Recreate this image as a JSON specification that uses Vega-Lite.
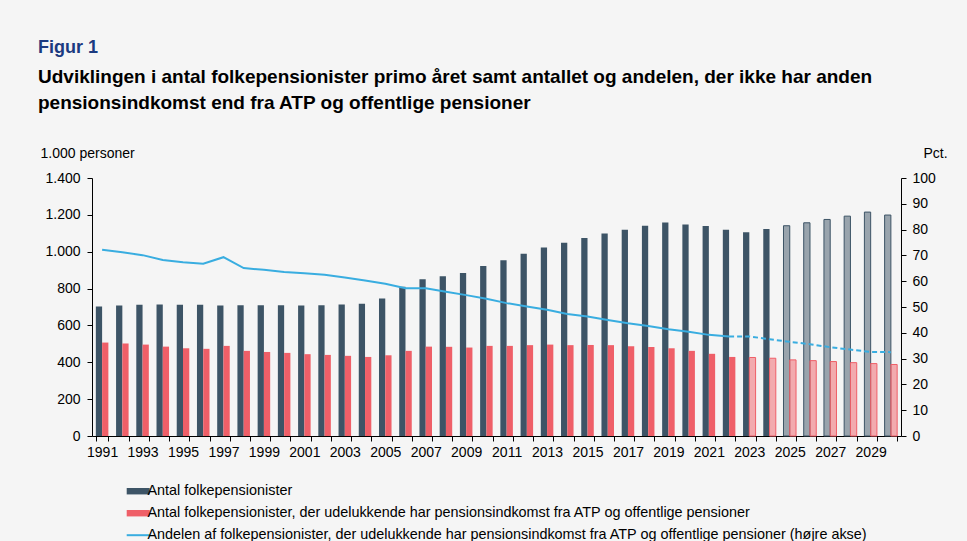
{
  "$schema": "https://vega.github.io/schema/vega-lite/v6.json",
  "width": 809,
  "height": 258,
  "autosize": {"type": "none"},
  "padding": {"left": 92, "top": 178, "right": 66, "bottom": 105},
  "background": "#f5f5f5",
  "config": {
    "view": {"stroke": null},
    "font": "Liberation Sans",
    "locale": {"number": {"decimal": ",", "thousands": ".", "grouping": [3], "currency": ["", " kr."]}},
    "axis": {
      "domainColor": "#000", "tickColor": "#000", "labelColor": "#000",
      "labelFontSize": 14, "labelFont": "Liberation Sans",
      "titleFont": "Liberation Sans", "titleFontSize": 14, "titleFontWeight": "normal", "titleColor": "#000",
      "grid": false, "tickSize": 5
    }
  },
  "title": {
    "text": "Figur 1",
    "subtitle": ["Udviklingen i antal folkepensionister primo året samt antallet og andelen, der ikke har anden", "pensionsindkomst end fra ATP og offentlige pensioner"],
    "anchor": "start",
    "frame": "group",
    "dx": -54,
    "offset": 33,
    "font": "Liberation Sans",
    "fontSize": 18,
    "fontWeight": "bold",
    "color": "#1b3a80",
    "subtitleFont": "Liberation Sans",
    "subtitleFontSize": 19,
    "subtitleFontWeight": "bold",
    "subtitleColor": "#000",
    "subtitleLineHeight": 26,
    "subtitlePadding": 11
  },
  "datasets": {
    "bars": [
      {"aar": 1991, "serie": "antal", "antal": 703, "prognose": false}, {"aar": 1991, "serie": "udel", "antal": 507, "prognose": false},
      {"aar": 1992, "serie": "antal", "antal": 708, "prognose": false}, {"aar": 1992, "serie": "udel", "antal": 502, "prognose": false},
      {"aar": 1993, "serie": "antal", "antal": 712, "prognose": false}, {"aar": 1993, "serie": "udel", "antal": 496, "prognose": false},
      {"aar": 1994, "serie": "antal", "antal": 714, "prognose": false}, {"aar": 1994, "serie": "udel", "antal": 485, "prognose": false},
      {"aar": 1995, "serie": "antal", "antal": 712, "prognose": false}, {"aar": 1995, "serie": "udel", "antal": 476, "prognose": false},
      {"aar": 1996, "serie": "antal", "antal": 712, "prognose": false}, {"aar": 1996, "serie": "udel", "antal": 473, "prognose": false},
      {"aar": 1997, "serie": "antal", "antal": 708, "prognose": false}, {"aar": 1997, "serie": "udel", "antal": 489, "prognose": false},
      {"aar": 1998, "serie": "antal", "antal": 710, "prognose": false}, {"aar": 1998, "serie": "udel", "antal": 462, "prognose": false},
      {"aar": 1999, "serie": "antal", "antal": 710, "prognose": false}, {"aar": 1999, "serie": "udel", "antal": 456, "prognose": false},
      {"aar": 2000, "serie": "antal", "antal": 710, "prognose": false}, {"aar": 2000, "serie": "udel", "antal": 451, "prognose": false},
      {"aar": 2001, "serie": "antal", "antal": 708, "prognose": false}, {"aar": 2001, "serie": "udel", "antal": 444, "prognose": false},
      {"aar": 2002, "serie": "antal", "antal": 710, "prognose": false}, {"aar": 2002, "serie": "udel", "antal": 440, "prognose": false},
      {"aar": 2003, "serie": "antal", "antal": 714, "prognose": false}, {"aar": 2003, "serie": "udel", "antal": 435, "prognose": false},
      {"aar": 2004, "serie": "antal", "antal": 717, "prognose": false}, {"aar": 2004, "serie": "udel", "antal": 429, "prognose": false},
      {"aar": 2005, "serie": "antal", "antal": 746, "prognose": false}, {"aar": 2005, "serie": "udel", "antal": 438, "prognose": false},
      {"aar": 2006, "serie": "antal", "antal": 810, "prognose": false}, {"aar": 2006, "serie": "udel", "antal": 462, "prognose": false},
      {"aar": 2007, "serie": "antal", "antal": 851, "prognose": false}, {"aar": 2007, "serie": "udel", "antal": 485, "prognose": false},
      {"aar": 2008, "serie": "antal", "antal": 867, "prognose": false}, {"aar": 2008, "serie": "udel", "antal": 484, "prognose": false},
      {"aar": 2009, "serie": "antal", "antal": 884, "prognose": false}, {"aar": 2009, "serie": "udel", "antal": 480, "prognose": false},
      {"aar": 2010, "serie": "antal", "antal": 922, "prognose": false}, {"aar": 2010, "serie": "udel", "antal": 489, "prognose": false},
      {"aar": 2011, "serie": "antal", "antal": 954, "prognose": false}, {"aar": 2011, "serie": "udel", "antal": 489, "prognose": false},
      {"aar": 2012, "serie": "antal", "antal": 989, "prognose": false}, {"aar": 2012, "serie": "udel", "antal": 493, "prognose": false},
      {"aar": 2013, "serie": "antal", "antal": 1023, "prognose": false}, {"aar": 2013, "serie": "udel", "antal": 496, "prognose": false},
      {"aar": 2014, "serie": "antal", "antal": 1049, "prognose": false}, {"aar": 2014, "serie": "udel", "antal": 493, "prognose": false},
      {"aar": 2015, "serie": "antal", "antal": 1074, "prognose": false}, {"aar": 2015, "serie": "udel", "antal": 494, "prognose": false},
      {"aar": 2016, "serie": "antal", "antal": 1099, "prognose": false}, {"aar": 2016, "serie": "udel", "antal": 493, "prognose": false},
      {"aar": 2017, "serie": "antal", "antal": 1119, "prognose": false}, {"aar": 2017, "serie": "udel", "antal": 487, "prognose": false},
      {"aar": 2018, "serie": "antal", "antal": 1141, "prognose": false}, {"aar": 2018, "serie": "udel", "antal": 483, "prognose": false},
      {"aar": 2019, "serie": "antal", "antal": 1159, "prognose": false}, {"aar": 2019, "serie": "udel", "antal": 476, "prognose": false},
      {"aar": 2020, "serie": "antal", "antal": 1148, "prognose": false}, {"aar": 2020, "serie": "udel", "antal": 462, "prognose": false},
      {"aar": 2021, "serie": "antal", "antal": 1139, "prognose": false}, {"aar": 2021, "serie": "udel", "antal": 446, "prognose": false},
      {"aar": 2022, "serie": "antal", "antal": 1119, "prognose": false}, {"aar": 2022, "serie": "udel", "antal": 429, "prognose": false},
      {"aar": 2023, "serie": "antal", "antal": 1105, "prognose": false}, {"aar": 2023, "serie": "udel", "antal": 426, "prognose": true},
      {"aar": 2024, "serie": "antal", "antal": 1123, "prognose": false}, {"aar": 2024, "serie": "udel", "antal": 422, "prognose": true},
      {"aar": 2025, "serie": "antal", "antal": 1141, "prognose": true}, {"aar": 2025, "serie": "udel", "antal": 413, "prognose": true},
      {"aar": 2026, "serie": "antal", "antal": 1157, "prognose": true}, {"aar": 2026, "serie": "udel", "antal": 409, "prognose": true},
      {"aar": 2027, "serie": "antal", "antal": 1175, "prognose": true}, {"aar": 2027, "serie": "udel", "antal": 404, "prognose": true},
      {"aar": 2028, "serie": "antal", "antal": 1193, "prognose": true}, {"aar": 2028, "serie": "udel", "antal": 398, "prognose": true},
      {"aar": 2029, "serie": "antal", "antal": 1215, "prognose": true}, {"aar": 2029, "serie": "udel", "antal": 393, "prognose": true},
      {"aar": 2030, "serie": "antal", "antal": 1199, "prognose": true}, {"aar": 2030, "serie": "udel", "antal": 388, "prognose": true}
    ],
    "linje": [
      {"aar": 1991, "andel": 72.2}, {"aar": 1992, "andel": 71.2}, {"aar": 1993, "andel": 70.1}, {"aar": 1994, "andel": 68.2},
      {"aar": 1995, "andel": 67.3}, {"aar": 1996, "andel": 66.8}, {"aar": 1997, "andel": 69.3}, {"aar": 1998, "andel": 65.1},
      {"aar": 1999, "andel": 64.4}, {"aar": 2000, "andel": 63.6}, {"aar": 2001, "andel": 63.1}, {"aar": 2002, "andel": 62.5},
      {"aar": 2003, "andel": 61.4}, {"aar": 2004, "andel": 60.3}, {"aar": 2005, "andel": 59.0}, {"aar": 2006, "andel": 57.3},
      {"aar": 2007, "andel": 57.3}, {"aar": 2008, "andel": 55.9}, {"aar": 2009, "andel": 54.6}, {"aar": 2010, "andel": 53.2},
      {"aar": 2011, "andel": 51.5}, {"aar": 2012, "andel": 50.2}, {"aar": 2013, "andel": 48.9}, {"aar": 2014, "andel": 47.3},
      {"aar": 2015, "andel": 46.3}, {"aar": 2016, "andel": 45.0}, {"aar": 2017, "andel": 43.7}, {"aar": 2018, "andel": 42.6},
      {"aar": 2019, "andel": 41.4}, {"aar": 2020, "andel": 40.4}, {"aar": 2021, "andel": 39.2}, {"aar": 2022, "andel": 38.6},
      {"aar": 2023, "andel": 38.6}, {"aar": 2024, "andel": 37.5}, {"aar": 2025, "andel": 36.5}, {"aar": 2026, "andel": 35.6},
      {"aar": 2027, "andel": 34.4}, {"aar": 2028, "andel": 33.5}, {"aar": 2029, "andel": 32.6}, {"aar": 2030, "andel": 32.5}
    ]
  },
  "layer": [
    {
      "data": {"name": "bars"},
      "mark": {"type": "bar"},
      "encoding": {
        "x": {
          "field": "aar", "type": "ordinal",
          "scale": {"paddingInner": 0.38, "paddingOuter": 0.19},
          "axis": {
            "title": null, "labelAngle": 0, "tickBand": "extent", "labelOverlap": false, "labelPadding": 4,
            "labelExpr": "datum.value % 2 == 1 ? datum.label : ''"
          }
        },
        "xOffset": {"field": "serie", "type": "nominal", "scale": {"domain": ["antal", "udel"], "paddingInner": 0, "paddingOuter": 0}},
        "y": {
          "field": "antal", "type": "quantitative",
          "scale": {"domain": [0, 1400]},
          "axis": {
            "orient": "left", "values": [0, 200, 400, 600, 800, 1000, 1200, 1400], "format": ",.0f",
            "labelPadding": 7,
            "title": "1.000 personer", "titleAngle": 0, "titleAlign": "left", "titleBaseline": "middle",
            "titleX": -52, "titleY": -25
          }
        },
        "color": {
          "field": "serie", "type": "nominal",
          "scale": {"domain": ["antal", "udel", "andel"], "range": ["#3d5466", "#ef5f68", "#39ade0"]},
          "legend": {
            "title": null, "orient": "none", "legendX": 39, "legendY": 306, "direction": "vertical",
            "labelFontSize": 14.4, "labelColor": "#000", "labelFont": "Liberation Sans", "labelLimit": 900,
            "labelOffset": 2, "rowPadding": 7, "symbolSize": 529, "symbolType": "M-1,-0.28H1V0.28H-1Z",
            "labelExpr": "datum.value == 'antal' ? 'Antal folkepensionister' : datum.value == 'udel' ? 'Antal folkepensionister, der udelukkende har pensionsindkomst fra ATP og offentlige pensioner' : 'Andelen af folkepensionister, der udelukkende har pensionsindkomst fra ATP og offentlige pensioner (højre akse)'",
            "encode": {
              "symbols": {
                "update": {
                  "shape": {"signal": "datum.value == 'andel' ? 'stroke' : 'M-1,-0.28H1V0.28H-1Z'"},
                  "fill": {"signal": "datum.value == 'andel' ? 'transparent' : scale('color', datum.value)"},
                  "stroke": {"signal": "scale('color', datum.value)"},
                  "strokeWidth": {"signal": "datum.value == 'andel' ? 2 : 0"},
                  "opacity": {"value": 1}
                }
              }
            }
          }
        },
        "fillOpacity": {"condition": {"test": "datum.prognose", "value": 0.5}, "value": 1},
        "stroke": {"field": "serie", "type": "nominal", "scale": {"domain": ["antal", "udel"], "range": ["#3d5466", "#ef5f68"]}, "legend": null},
        "strokeWidth": {"condition": {"test": "datum.prognose", "value": 1}, "value": 0}
      }
    },
    {
      "data": {"name": "linje"},
      "transform": [{"filter": "datum.aar <= 2022"}],
      "mark": {"type": "line", "strokeWidth": 2},
      "encoding": {
        "x": {"field": "aar", "type": "ordinal"},
        "y": {
          "field": "andel", "type": "quantitative",
          "scale": {"domain": [0, 100]},
          "axis": {
            "orient": "right", "values": [0, 10, 20, 30, 40, 50, 60, 70, 80, 90, 100],
            "labelPadding": 6,
            "title": "Pct.", "titleAngle": 0, "titleAlign": "left", "titleBaseline": "middle",
            "titleX": 22, "titleY": -25
          }
        },
        "color": {"datum": "andel"}
      }
    },
    {
      "data": {"name": "linje"},
      "transform": [{"filter": "datum.aar >= 2022"}],
      "mark": {"type": "line", "strokeWidth": 2, "strokeDash": [5, 3]},
      "encoding": {
        "x": {"field": "aar", "type": "ordinal"},
        "y": {"field": "andel", "type": "quantitative", "scale": {"domain": [0, 100]}, "axis": null},
        "color": {"datum": "andel"}
      }
    }
  ],
  "resolve": {"scale": {"y": "independent"}}
}
